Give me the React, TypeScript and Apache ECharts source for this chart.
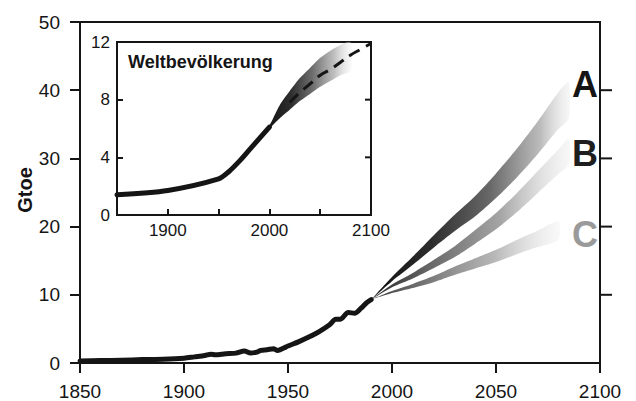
import React, { useEffect, useRef } from "react";
import * as echarts from "echarts";

// ---- Main chart: world energy consumption (Gtoe) ----
const historicYears = [1850, 1860, 1870, 1880, 1890, 1900, 1905, 1910, 1913, 1915, 1920, 1925, 1929, 1932, 1935, 1937, 1940, 1943, 1945, 1948, 1950, 1955, 1960, 1965, 1970, 1973, 1975, 1979, 1982, 1985, 1988, 1990];
const historicValues = [0.3, 0.35, 0.4, 0.5, 0.55, 0.7, 0.9, 1.1, 1.3, 1.2, 1.35, 1.45, 1.75, 1.45, 1.6, 1.85, 1.95, 2.1, 1.85, 2.2, 2.5, 3.1, 3.8, 4.6, 5.6, 6.4, 6.4, 7.4, 7.3, 8.0, 8.9, 9.3];

const scenAYears = [1990, 2000, 2010, 2020, 2030, 2040, 2050, 2060, 2070, 2080, 2085];
const scenALow = [9.3, 12.0, 14.4, 16.9, 19.3, 21.5, 24.2, 27.2, 30.6, 34.3, 35.8];
const scenAHigh = [9.3, 12.6, 15.6, 18.7, 21.7, 24.5, 27.8, 31.4, 35.4, 39.7, 41.2];

const scenBYears = [1990, 2000, 2010, 2020, 2030, 2040, 2050, 2060, 2070, 2080, 2085];
const scenBLow = [9.3, 11.1, 12.4, 13.9, 15.5, 17.5, 19.6, 22.1, 24.9, 27.7, 29.1];
const scenBHigh = [9.3, 11.5, 13.2, 15.1, 17.1, 19.5, 22.0, 24.9, 28.1, 31.3, 32.9];

const scenCYears = [1990, 2000, 2010, 2020, 2030, 2040, 2050, 2060, 2070, 2080];
const scenCLow = [9.3, 10.25, 11.0, 11.85, 12.9, 13.85, 14.8, 15.95, 17.0, 18.05];
const scenCHigh = [9.3, 10.55, 11.6, 12.75, 14.1, 15.35, 16.6, 18.05, 19.4, 20.75];

const mainXTicks = [1900, 1950, 2000, 2050];
const mainYTicks = [10, 20, 30, 40];

// ---- Inset: world population (billions) ----
const popYears = [1850, 1900, 1950, 1960, 1970, 1980, 1990, 2000];
const popValues = [1.4, 1.7, 2.5, 3.0, 3.7, 4.5, 5.3, 6.1];

const popBandYears = [1995, 2000, 2010, 2020, 2030, 2040, 2050, 2060, 2070, 2080];
const popBandLow = [5.65, 6.0, 6.7, 7.3, 7.9, 8.4, 8.9, 9.3, 9.7, 10.0];
const popBandHigh = [5.75, 6.2, 7.6, 8.6, 9.5, 10.2, 10.9, 11.4, 11.8, 12.0];

const popDashYears = [2020, 2030, 2040, 2050, 2060, 2070, 2080, 2090, 2100];
const popDashValues = [7.8, 8.5, 9.1, 9.7, 10.1, 10.6, 11.1, 11.5, 11.9];

const insetXTicks = [1900, 1950, 2000, 2050];
const insetXLabelStep = 100;
const insetYTicks = [4, 8];

const FONT = "'Liberation Sans', Arial, Helvetica, sans-serif";
const INK = "#151515";

const zip = (xs: number[], ys: number[]) => xs.map((x, i) => [x, ys[i]]);

function bandSeries(
  name: string,
  years: number[],
  low: number[],
  high: number[],
  stops: [number, string][],
  xAxisIndex: number,
  yAxisIndex: number,
  z: number
) {
  const gradient = new echarts.graphic.LinearGradient(
    0,
    0,
    1,
    0,
    stops.map(([offset, color]) => ({ offset, color }))
  );
  return {
    name,
    type: "custom",
    xAxisIndex,
    yAxisIndex,
    z,
    silent: true,
    clip: true,
    data: [[years[0], low[0]]],
    renderItem: (_params: any, api: any) => {
      const lower = years.map((y, i) => api.coord([y, low[i]]));
      const upper = years.map((y, i) => api.coord([y, high[i]])).reverse();
      return {
        type: "polygon",
        shape: { points: lower.concat(upper), smooth: 0.25 },
        style: { fill: gradient, stroke: "none" },
      };
    },
  };
}

const textGraphics = [
  {
    type: "text",
    x: 25,
    y: 190,
    rotation: Math.PI / 2,
    z: 100,
    style: {
      text: "Gtoe",
      font: `bold 20px ${FONT}`,
      fill: INK,
      textAlign: "center",
      textVerticalAlign: "middle",
    },
  },
  {
    type: "text",
    x: 128,
    y: 62,
    z: 100,
    style: {
      text: "Weltbevölkerung",
      font: `bold 18px ${FONT}`,
      fill: INK,
      textAlign: "left",
      textVerticalAlign: "middle",
    },
  },
  {
    type: "text",
    x: 585,
    y: 84,
    z: 100,
    style: {
      text: "A",
      font: `bold 36px ${FONT}`,
      fill: INK,
      textAlign: "center",
      textVerticalAlign: "middle",
    },
  },
  {
    type: "text",
    x: 585,
    y: 153,
    z: 100,
    style: {
      text: "B",
      font: `bold 36px ${FONT}`,
      fill: "#1e1e1e",
      textAlign: "center",
      textVerticalAlign: "middle",
    },
  },
  {
    type: "text",
    x: 585,
    y: 234,
    z: 100,
    style: {
      text: "C",
      font: `bold 36px ${FONT}`,
      fill: "#9a9a9a",
      textAlign: "center",
      textVerticalAlign: "middle",
    },
  },
];

export default function App() {
  const ref = useRef<HTMLDivElement>(null);

  useEffect(() => {
    if (!ref.current) return;
    const chart = echarts.init(ref.current, null, { renderer: "svg" });

    const axisLine = { show: true, onZero: false, lineStyle: { color: INK, width: 2 } };
    const tick = (inside: boolean, length: number) => ({
      show: true,
      inside,
      length,
      lineStyle: { color: INK, width: 2 },
    });

    const option: any = {
      animation: false,
      backgroundColor: "#ffffff",
      grid: [
        {
          left: 80,
          right: 36,
          top: 22,
          bottom: 36,
          show: true,
          borderColor: INK,
          borderWidth: 2,
          backgroundColor: "transparent",
        },
        {
          left: 117,
          top: 42,
          width: 254,
          height: 173,
          show: true,
          borderColor: INK,
          borderWidth: 2,
          backgroundColor: "#ffffff",
          z: 5,
        },
      ],
      xAxis: [
        {
          type: "value",
          gridIndex: 0,
          min: 1850,
          max: 2100,
          interval: 50,
          axisLine,
          splitLine: { show: false },
          axisTick: tick(false, 10),
          axisLabel: {
            margin: 19,
            fontSize: 19,
            fontFamily: FONT,
            color: INK,
            formatter: (v: number) => String(v),
          },
        },
        {
          type: "value",
          gridIndex: 1,
          min: 1850,
          max: 2100,
          interval: 50,
          axisLine,
          splitLine: { show: false },
          axisTick: tick(true, 6),
          axisLabel: {
            margin: 7,
            fontSize: 17,
            fontFamily: FONT,
            color: INK,
            formatter: (v: number) => (v % insetXLabelStep === 0 ? String(v) : ""),
          },
          z: 6,
        },
      ],
      yAxis: [
        {
          type: "value",
          gridIndex: 0,
          min: 0,
          max: 50,
          interval: 10,
          axisLine,
          splitLine: { show: false },
          axisTick: tick(false, 10),
          axisLabel: {
            margin: 20,
            fontSize: 19,
            fontFamily: FONT,
            color: INK,
          },
        },
        {
          type: "value",
          gridIndex: 1,
          min: 0,
          max: 12,
          interval: 4,
          axisLine,
          splitLine: { show: false },
          axisTick: tick(true, 6),
          axisLabel: {
            margin: 7,
            fontSize: 17,
            fontFamily: FONT,
            color: INK,
          },
          z: 6,
        },
      ],
      series: [
        bandSeries(
          "C",
          scenCYears,
          scenCLow,
          scenCHigh,
          [
            [0, "rgba(60,60,60,1)"],
            [0.3, "rgba(120,120,120,1)"],
            [0.65, "rgba(175,175,175,0.9)"],
            [1, "rgba(235,235,235,0.3)"],
          ],
          0,
          0,
          2
        ),
        bandSeries(
          "B",
          scenBYears,
          scenBLow,
          scenBHigh,
          [
            [0, "rgba(40,40,40,1)"],
            [0.3, "rgba(105,105,105,1)"],
            [0.65, "rgba(160,160,160,0.95)"],
            [1, "rgba(230,230,230,0.3)"],
          ],
          0,
          0,
          2
        ),
        bandSeries(
          "A",
          scenAYears,
          scenALow,
          scenAHigh,
          [
            [0, "rgba(15,15,15,1)"],
            [0.3, "rgba(45,45,45,1)"],
            [0.6, "rgba(105,105,105,1)"],
            [0.85, "rgba(180,180,180,0.9)"],
            [1, "rgba(230,230,230,0.3)"],
          ],
          0,
          0,
          2
        ),
        {
          name: "historic",
          type: "line",
          xAxisIndex: 0,
          yAxisIndex: 0,
          data: zip(historicYears, historicValues),
          symbol: "none",
          smooth: 0.3,
          lineStyle: { color: INK, width: 5, cap: "round", join: "round" },
          z: 3,
        },
        bandSeries(
          "Pop",
          popBandYears,
          popBandLow,
          popBandHigh,
          [
            [0, "rgba(15,15,15,1)"],
            [0.3, "rgba(45,45,45,1)"],
            [0.55, "rgba(110,110,110,1)"],
            [0.8, "rgba(185,185,185,0.9)"],
            [1, "rgba(240,240,240,0.3)"],
          ],
          1,
          1,
          7
        ),
        {
          name: "population",
          type: "line",
          xAxisIndex: 1,
          yAxisIndex: 1,
          data: zip(popYears, popValues),
          symbol: "none",
          smooth: 0.3,
          lineStyle: { color: INK, width: 5, cap: "round" },
          z: 8,
        },
        {
          name: "population-mean",
          type: "line",
          xAxisIndex: 1,
          yAxisIndex: 1,
          data: zip(popDashYears, popDashValues),
          symbol: "none",
          smooth: true,
          lineStyle: { color: INK, width: 3, type: [12, 7] },
          z: 8,
        },
      ],
      graphic: textGraphics,
    };

    chart.setOption(option);

    // Extra tick marks positioned with single-axis conversions of the chart's own scales.
    const tickRects: any[] = [];
    const px = (axisIndex: number, v: number) =>
      chart.convertToPixel({ xAxisIndex: axisIndex } as any, v) as unknown as number;
    const py = (axisIndex: number, v: number) =>
      chart.convertToPixel({ yAxisIndex: axisIndex } as any, v) as unknown as number;
    const addRect = (x: number, y: number, w: number, h: number) => {
      if (![x, y, w, h].every((n) => typeof n === "number" && isFinite(n))) return;
      tickRects.push({
        type: "rect",
        z: 200,
        silent: true,
        shape: { x, y, width: w, height: h },
        style: { fill: INK },
      });
    };
    // main: right side ticks (outside)
    const mainRight = px(0, 2100);
    mainYTicks.forEach((v) => addRect(mainRight, py(0, v) - 1, 12, 2));
    // inset: right side ticks (inside)
    const insetRight = px(1, 2100);
    insetYTicks.forEach((v) => addRect(insetRight - 6, py(1, v) - 1, 6, 2));

    chart.setOption({ graphic: [...textGraphics, ...tickRects] });

    return () => chart.dispose();
  }, []);

  return (
    <div
      ref={ref}
      style={{ position: "fixed", left: 0, top: 0, width: 636, height: 401, background: "#fff" }}
    />
  );
}
